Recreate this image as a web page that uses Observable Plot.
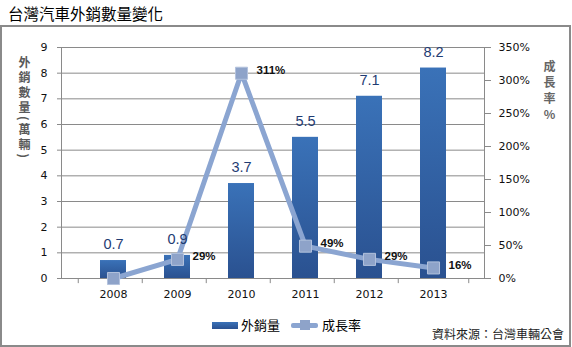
<!DOCTYPE html>
<html><head><meta charset="utf-8">
<script src="https://cdn.jsdelivr.net/npm/d3@7"></script>
<script src="https://cdn.jsdelivr.net/npm/@observablehq/plot@0.6"></script>
<style>
body{margin:0;background:#fff;}
#wrap{position:relative;width:572px;height:347px;overflow:hidden;font-family:"Noto Sans CJK TC","DejaVu Sans",sans-serif;}
#title{position:absolute;left:8px;top:3px;font-size:15.5px;line-height:20px;color:#000;}
#frame{position:absolute;left:0;top:25px;width:571px;height:322px;border:2px solid #8a8a8a;box-sizing:border-box;}
#chart{position:absolute;left:0;top:0;}
#ytitle{position:absolute;left:17px;top:56px;writing-mode:vertical-rl;font-size:12px;font-weight:bold;color:#5a5a5a;letter-spacing:3px;line-height:14px;}
#y2title{position:absolute;left:542px;top:60px;writing-mode:vertical-rl;text-orientation:upright;font-size:12px;font-weight:bold;color:#666;letter-spacing:4px;line-height:14px;}
.lg{position:absolute;font-size:13px;line-height:16px;color:#000;}
#src{position:absolute;left:432px;top:326px;font-size:12px;line-height:16px;color:#222;}
</style></head><body>
<div id="wrap">
  <div id="title">台灣汽車外銷數量變化</div>
  <div id="frame"></div>
  <div id="chart"></div>
  <div id="ytitle">外銷數量(萬輛)</div>
  <div id="y2title">成長率%</div>
  <div style="position:absolute;left:212px;top:322px;width:26px;height:7px;background:linear-gradient(#3a72b8,#2a5190);"></div>
  <div class="lg" style="left:241px;top:317px;">外銷量</div>
  <div style="position:absolute;left:291px;top:323px;width:27px;height:5px;border-radius:2px;background:#8ba5d1;"></div>
  <div style="position:absolute;left:300px;top:320px;width:10px;height:10px;background:#8ea3c9;"></div>
  <div class="lg" style="left:322px;top:317px;">成長率</div>
  <div id="src">資料來源：台灣車輛公會</div>
</div>
<script>
const years = ["2008","2009","2010","2011","2012","2013"];
const exportVolume = [0.7, 0.9, 3.7, 5.5, 7.1, 8.2];
const growthRate = [0, 29, 311, 49, 29, 16];
const growthLabels = [null, "29%", "311%", "49%", "29%", "16%"];
const leftTicks = [0,1,2,3,4,5,6,7,8,9];
const rightTicks = [0,50,100,150,200,250,300,350];

const k = 9 / 350;
const data = years.map((y, i) => ({year: y, v: exportVolume[i], g: growthRate[i], gy: growthRate[i] * k, gl: growthLabels[i]}));

const W = 572, H = 310, ML = 61, MR = 88, MT = 47, MB = 32;
const bw = (W - ML - MR) / years.length;

const chart = Plot.plot({
  width: W, height: H,
  marginLeft: ML, marginRight: MR, marginTop: MT, marginBottom: MB,
  x: {domain: years, padding: 0.6, axis: null},
  y: {domain: [0, 9], axis: null},
  style: {fontFamily: "DejaVu Sans", fontSize: "11px", color: "#111", background: "transparent", overflow: "visible"},
  marks: [
    Plot.gridY(leftTicks, {stroke: "#8a8a8a", strokeOpacity: 1}),
    Plot.frame({stroke: "#8a8a8a"}),
    Plot.ruleX(years, {x: d => d, dx: -bw / 2, y1: 0, y2: -0.2, stroke: "#8a8a8a"}),
    Plot.ruleX([years[years.length - 1]], {x: d => d, dx: bw / 2, y1: 0, y2: -0.2, stroke: "#8a8a8a"}),
    Plot.axisY(leftTicks, {anchor: "left", tickSize: 4, tickPadding: 10, stroke: "#8a8a8a", fill: "#111", label: null}),
    Plot.axisY(rightTicks.map(p => p * k), {anchor: "right", tickSize: 6, tickPadding: 8, tickFormat: d => Math.round(d / k) + "%", stroke: "#8a8a8a", fill: "#111", label: null}),
    Plot.axisX({anchor: "bottom", tickSize: 0, tickPadding: 12, fill: "#111", label: null}),
    Plot.barY(data, {x: "year", y: "v", fill: "url(#barGrad)"}),
    Plot.line(data, {x: "year", y: "gy", stroke: "#8ba5d1", strokeWidth: 5}),
    Plot.dot(data, {x: "year", y: "gy", symbol: "square", r: 6.8, fill: "#8ea3c9", stroke: "#b3c2dd", strokeWidth: 1}),
    Plot.text(data, {x: "year", y: "v", text: d => d.v.toFixed(1), dy: -16, fill: "#1f3c73", fontSize: 14.5, fontFamily: "Liberation Sans"}),
    Plot.text(data.filter(d => d.gl), {x: "year", y: "gy", text: "gl", textAnchor: "start", dx: 15, dy: -3, fontWeight: "bold", fontSize: 11.5, fontFamily: "Liberation Sans", fill: "#111"})
  ]
});

const defs = d3.select(chart).insert("defs", ":first-child");
const grad = defs.append("linearGradient").attr("id", "barGrad").attr("x1", 0).attr("y1", 0).attr("x2", 0).attr("y2", 1);
grad.append("stop").attr("offset", "0%").attr("stop-color", "#3a72b8");
grad.append("stop").attr("offset", "100%").attr("stop-color", "#2a5190");

document.getElementById("chart").appendChild(chart);
</script>
</body></html>
